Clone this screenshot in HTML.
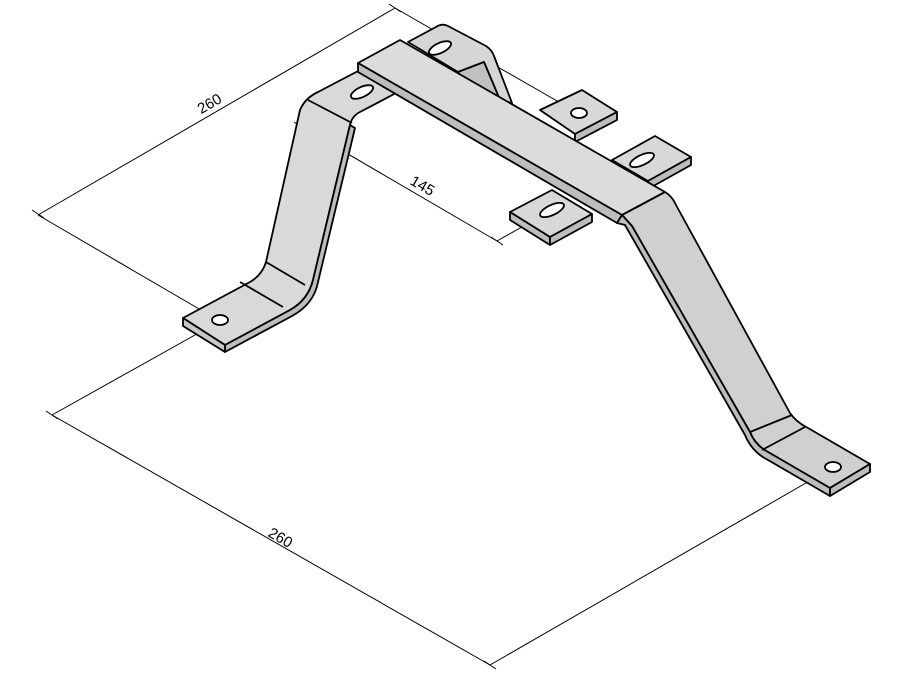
<!DOCTYPE html>
<html><head><style>html,body{margin:0;padding:0;background:#fff}svg{display:block}</style></head>
<body>
<svg width="900" height="675" viewBox="0 0 900 675" xmlns="http://www.w3.org/2000/svg" font-family="Liberation Sans, sans-serif">
<g fill="none" stroke="#000" stroke-width="1">
<line x1="38" y1="215" x2="395" y2="8"/>
<line x1="395" y1="8" x2="578" y2="113"/>
<line x1="38" y1="215" x2="218" y2="320"/>
<line x1="300" y1="126" x2="497" y2="241"/>
<line x1="497" y1="241" x2="552" y2="210"/>
<line x1="52" y1="415" x2="490" y2="665"/>
<line x1="52" y1="415" x2="220" y2="321"/>
<line x1="490" y1="665" x2="832" y2="468"/>
<path d="M32 210 l12 8 M389 4 l12 8 M294 122 l12 8 M491 237 l12 8 M46 411 l12 8 M484 661 l12 8"/>
</g>
<text x="212" y="108" font-size="15" transform="rotate(-30 212 108)" text-anchor="middle">260</text>
<text x="420" y="190" font-size="15" transform="rotate(30 420 190)" text-anchor="middle">145</text>
<text x="278" y="542" font-size="15" transform="rotate(30 278 542)" text-anchor="middle">260</text>

<g stroke="#000" stroke-width="1.8" stroke-linejoin="round">
<!-- back strap & upright -->
<path d="M408,42 L436,27 Q442,23 448,26 L486,46 Q492,50 494,56 L512,103 L500,100 L484,62 L458,72 Z" fill="#d6d6d6"/>
<polygon points="458,72 484,62 500,100 470,90" fill="#c0c0c0"/>
<ellipse cx="440" cy="48" rx="12" ry="5" transform="rotate(-25 440 48)" fill="#fff"/>
<!-- tabs -->
<polygon points="540,110 582,90 617,112 575,134" fill="#d8d8d8"/>
<polygon points="575,134 617,112 617,120 575,142" fill="#bdbdbd"/>
<ellipse cx="579" cy="113" rx="8" ry="5" fill="#fff"/>
<polygon points="612,160 655,136 691,157 648,181" fill="#d8d8d8"/>
<polygon points="648,181 691,157 691,165 648,189" fill="#bdbdbd"/>
<ellipse cx="642" cy="160" rx="13" ry="5" transform="rotate(-25 642 160)" fill="#fff"/>
<polygon points="510,212 552,190 592,214 550,237" fill="#d8d8d8"/>
<polygon points="510,212 550,237 550,245 510,220" fill="#bdbdbd"/>
<polygon points="550,237 592,214 592,222 550,245" fill="#bdbdbd"/>
<ellipse cx="552" cy="210" rx="13" ry="5" transform="rotate(-25 552 210)" fill="#fff"/>
<!-- left strap -->
<path d="M183,318 L250,282 Q262,275 266,262 L300,110 Q305,98 318,92 L360,70 L398,92 L360,112 Q352,116 350,125 L313,280 Q308,300 290,310 L225,345 Z" fill="#d9d9d9"/>
<path d="M350,125 L313,280 Q308,300 290,310 L225,345 L225,352 L292,316 Q314,304 318,282 L355,128 Z" fill="#bdbdbd"/>
<polygon points="183,318 225,345 225,352 183,326" fill="#c8c8c8"/>
<line x1="240" y1="282" x2="283" y2="307"/>
<line x1="266" y1="262" x2="305" y2="285"/>
<line x1="308" y1="100" x2="352" y2="123"/>
<ellipse cx="220" cy="320" rx="8" ry="5" fill="#fff"/>
<ellipse cx="362" cy="92" rx="12" ry="5" transform="rotate(-25 362 92)" fill="#fff"/>
<!-- top bar -->
<polygon points="358,63 400,40 665,192 622,215" fill="#dcdcdc"/>
<polygon points="358,63 622,215 617,223 358,72" fill="#bdbdbd"/>
<!-- right strap -->
<path d="M622,215 L665,192 Q672,196 676,205 L790,413 Q796,422 808,428 L870,464 L830,488 L768,452 Q755,445 750,432 L632,226 Z" fill="#d0d0d0"/>
<path d="M617,223 L625,225 L745,435 Q752,452 768,460 L830,496 L830,488 L768,452 Q755,445 750,432 L632,226 L622,215 Z" fill="#bdbdbd"/>
<polygon points="830,488 870,464 870,472 830,496" fill="#bdbdbd"/>
<line x1="622" y1="215" x2="665" y2="192"/>
<line x1="750" y1="432" x2="792" y2="415"/>
<line x1="762" y1="450" x2="805" y2="427"/>
<ellipse cx="833" cy="467" rx="8" ry="5" fill="#fff"/>
</g>
</svg>
</body></html>
